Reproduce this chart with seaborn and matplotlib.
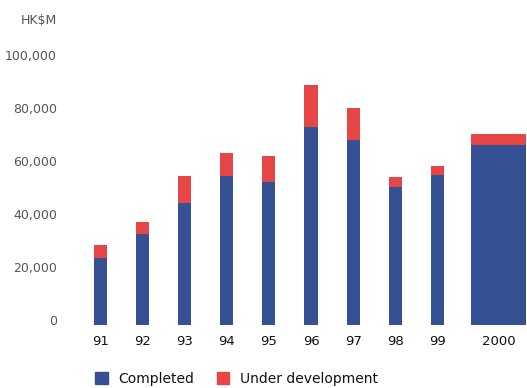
import numpy as np
import matplotlib
matplotlib.use("Agg")
import matplotlib.pyplot as plt
import matplotlib.patches as mpatches
import seaborn as sns

# HK$M
years = ["91", "92", "93", "94", "95", "96", "97", "98", "99", "2000"]
completed = [25300, 34300, 46000, 56200, 54000, 74700, 69800, 52100, 56600, 67900]
under_development = [4900, 4600, 10200, 8700, 9800, 15900, 12100, 3700, 3400, 4200]
y_ticks = [0, 20000, 40000, 60000, 80000, 100000]

BLUE = "#355093"
RED = "#e64645"
GREY = "#555555"

sns.set_theme(style="white")
plt.rcParams["font.family"] = ["DejaVu Sans"]

fig = plt.figure(figsize=(5.27, 3.88), dpi=100)
ax = fig.add_axes([75 / 527, 63 / 388, 1 - 75 / 527, (325 - 28) / 388])

# the 2000 bar is drawn wider and set apart from the yearly ones
pos = np.append(np.arange(len(years) - 1), 9.45)
widths = np.append(np.full(len(years) - 1, 0.31), 1.3)

ax.bar(pos, completed, width=widths, color=BLUE, linewidth=0)
ax.bar(pos, under_development, bottom=completed, width=widths, color=RED, linewidth=0)

ax.set_xlim(-0.606, 10.13)
ax.set_ylim(0, 112000)
ax.set_xticks(pos)
ax.set_xticklabels(years, fontsize=9.5, color="#111111")
ax.set_yticks(y_ticks)
# labels sit on the value line, as in the original
ax.set_yticklabels([f"{v:,}" for v in y_ticks], fontsize=9, color=GREY, va="baseline")
ax.tick_params(axis="x", length=0, pad=7)
ax.tick_params(axis="y", length=0, pad=13)
sns.despine(ax=ax, left=True, bottom=True)
ax.grid(False)

fig.text(57 / 527, 1 - 21 / 388, "HK$M", ha="right", va="center",
         fontsize=9, color=GREY)

handles = [mpatches.Patch(color=BLUE, label="Completed"),
           mpatches.Patch(color=RED, label="Under development")]
fig.legend(handles=handles, loc="center left", bbox_to_anchor=(95 / 527, 9 / 388),
           ncol=2, frameon=False, fontsize=10, handlelength=0.9, handleheight=0.9,
           handletextpad=0.8, columnspacing=1.6, borderpad=0, borderaxespad=0,
           labelcolor="#111111")

fig.savefig("out.png", dpi=100)
